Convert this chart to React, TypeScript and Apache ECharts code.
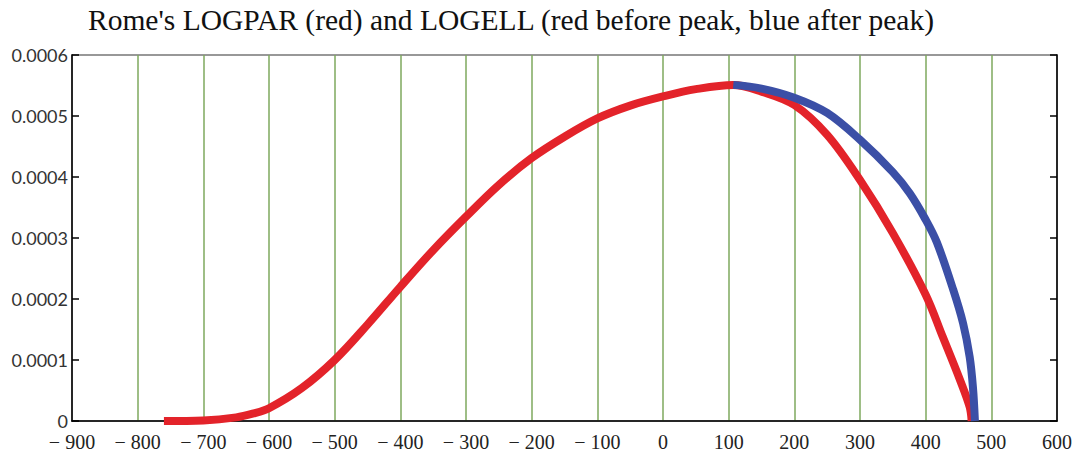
import React, { useEffect, useRef } from "react";
import * as echarts from "echarts";

const titleText = "Rome's LOGPAR (red) and LOGELL (red before peak, blue after peak)";
// x in years, y in units of 1e-4
const logparX = [-760, -700, -650, -625, -600, -550, -500, -450, -400, -350, -300, -250, -200, -150, -100, -50, 0, 50, 107, 150, 200, 250, 300, 350, 400, 426, 452, 467, 470];
const logparY = [0, 0.01, 0.06, 0.12, 0.21, 0.54, 1.0, 1.58, 2.2, 2.8, 3.35, 3.87, 4.31, 4.66, 4.96, 5.17, 5.32, 5.44, 5.51, 5.4, 5.18, 4.69, 3.95, 3.08, 2.07, 1.38, 0.68, 0.23, 0];
const logellX = [107, 150, 200, 250, 300, 350, 376, 400, 417, 442, 457, 467, 472, 475];
const logellY = [5.51, 5.45, 5.3, 5.05, 4.61, 4.08, 3.73, 3.3, 2.93, 2.15, 1.6, 1.05, 0.55, 0];

const xMin = -900, xMax = 600, xStep = 100;
const yMin = 0, yMax = 0.0006, yStep = 0.0001;

export default function App() {
  const ref = useRef<HTMLDivElement>(null);
  useEffect(() => {
    if (!ref.current) return;
    const chart = echarts.init(ref.current, undefined, { renderer: "svg" });
    const toPairs = (xs: number[], ys: number[]) => xs.map((x, i) => [x, ys[i] * 1e-4]);
    const yAxisBase = {
      type: "value",
      min: yMin,
      max: yMax,
      interval: yStep,
      splitLine: { show: false },
      axisLine: { show: true, onZero: false, lineStyle: { color: "#000", width: 1.5 } },
      axisTick: { show: true, inside: true, length: 7, lineStyle: { color: "#000", width: 1.5 } },
    };
    chart.setOption({
      animation: false,
      backgroundColor: "#fff",
      title: {
        text: titleText,
        left: 83,
        top: 0,
        textStyle: { fontFamily: "Liberation Serif", fontSize: 29.5, fontWeight: "normal", color: "#111" },
      },
      grid: { left: 72, right: 23, top: 55, bottom: 31, show: true, borderColor: "#777", borderWidth: 1.5 },
      xAxis: {
        type: "value",
        min: xMin,
        max: xMax,
        interval: xStep,
        axisLine: { show: true, onZero: false, lineStyle: { color: "#000", width: 1.5 } },
        axisTick: { show: false },
        axisLabel: {
          margin: 13,
          fontFamily: "Liberation Serif",
          fontSize: 20,
          lineHeight: 16,
          color: "#222",
          formatter: (v: number) => (v < 0 ? "\u2212 " + Math.abs(v) : String(v)),
        },
        splitLine: { show: true, showMinLine: false, showMaxLine: false, lineStyle: { color: "#7ea85e", width: 1.5 } },
      },
      yAxis: [
        {
          ...yAxisBase,
          position: "left",
          axisLabel: {
            margin: 4,
            fontFamily: "Lato",
            fontSize: 18,
            lineHeight: 16,
            color: "#333",
            formatter: (v: number) => (v === 0 ? "0" : v.toFixed(4)),
          },
        },
        { ...yAxisBase, position: "right", axisLabel: { show: false } },
      ],
      series: [
        {
          type: "line",
          data: toPairs(logparX, logparY),
          smooth: 0.35,
          showSymbol: false,
          clip: false,
          lineStyle: { color: "#e3232a", width: 8 },
        },
        {
          type: "line",
          data: toPairs(logellX, logellY),
          smooth: 0.35,
          showSymbol: false,
          clip: false,
          lineStyle: { color: "#3b4fa6", width: 8 },
        },
      ],
    });
    return () => chart.dispose();
  }, []);
  return <div ref={ref} style={{ position: "fixed", left: 0, top: 0, width: 1080, height: 452 }} />;
}
